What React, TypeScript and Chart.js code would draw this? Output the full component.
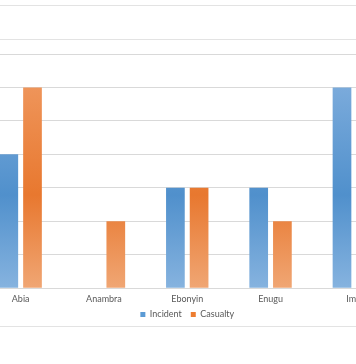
import React, { useEffect, useRef } from "react";
import { Chart, registerables } from "chart.js";

Chart.register(...registerables);

const categories = ["Abia", "Anambra", "Ebonyin", "Enugu", "Imo"];
const incident = [4, 0, 3, 3, 6];
const casualty = [6, 2, 3, 2, 4];
const seriesNames = ["Incident", "Casualty"];
const yMax = 7;

function makeGradient(chart: any, stops: [number, string][]) {
  const { ctx, chartArea, scales } = chart;
  if (!chartArea || !scales.y) return stops[1][1];
  const top = scales.y.getPixelForValue(6.2);
  const bottom = scales.y.getPixelForValue(0);
  const g = ctx.createLinearGradient(0, top, 0, bottom);
  stops.forEach(([p, c]) => g.addColorStop(p, c));
  return g;
}

const blueStops: [number, string][] = [
  [0, "#7dacdc"],
  [0.55, "#5090cc"],
  [1, "#86b3df"],
];
const orangeStops: [number, string][] = [
  [0, "#ef965c"],
  [0.55, "#e8782f"],
  [1, "#f0a674"],
];

const decoLines = {
  id: "decoLines",
  beforeDraw(chart: any) {
    const { ctx, width } = chart;
    ctx.save();
    ctx.strokeStyle = "#e3e3e3";
    ctx.lineWidth = 1;
    [5.5, 39.5, 326.5].forEach((y) => {
      ctx.beginPath();
      ctx.moveTo(0, y);
      ctx.lineTo(width, y);
      ctx.stroke();
    });
    ctx.restore();
  },
};

const legendShift = {
  id: "legendShift",
  afterLayout(chart: any) {
    const lg = chart.legend;
    if (lg) {
      lg.top -= 8;
      lg.bottom -= 8;
    }
  },
};

export default function App() {
  const ref = useRef<HTMLCanvasElement | null>(null);
  useEffect(() => {
    document.body.style.margin = "0";
    const chart = new Chart(ref.current!, {
      type: "bar",
      data: {
        labels: categories,
        datasets: [
          {
            label: seriesNames[0],
            data: incident,
            backgroundColor: (c: any) => makeGradient(c.chart, blueStops),
            categoryPercentage: 0.569,
            barPercentage: 0.789,
          },
          {
            label: seriesNames[1],
            data: casualty,
            backgroundColor: (c: any) => makeGradient(c.chart, orangeStops),
            categoryPercentage: 0.569,
            barPercentage: 0.789,
          },
        ],
      },
      options: {
        animation: false,
        responsive: false,
        maintainAspectRatio: false,
        layout: { padding: { left: 39, right: 20.5, top: 54, bottom: 27 } },
        plugins: {
          tooltip: { enabled: false },
          legend: {
            position: "bottom",
            labels: {
              boxWidth: 5,
              boxHeight: 5,
              padding: 9,
              color: "#595959",
              font: { family: "Lato", size: 9 },
              generateLabels: () =>
                seriesNames.map((n, i) => ({
                  text: n,
                  fillStyle: i === 0 ? "#5b9bd5" : "#ed7d31",
                  strokeStyle: "rgba(0,0,0,0)",
                  lineWidth: 0,
                  datasetIndex: i,
                  fontColor: "#595959",
                })),
            },
          },
        },
        scales: {
          x: {
            grid: { display: false, drawTicks: false },
            border: { display: true, color: "#d9d9d9" },
            ticks: {
              color: "#595959",
              font: { family: "Lato", size: 9 },
              padding: 5,
            },
          },
          y: {
            min: 0,
            max: yMax,
            ticks: { display: false, stepSize: 1 },
            grid: { color: "#d9d9d9", drawTicks: false },
            border: { display: false },
          },
        },
      },
      plugins: [decoLines, legendShift],
    });
    return () => chart.destroy();
  }, []);
  return (
    <div
      style={{
        position: "fixed",
        left: 0,
        top: 0,
        width: 356,
        height: 364,
        overflow: "hidden",
        background: "#fff",
      }}
    >
      <canvas
        ref={ref}
        width={476}
        height={364}
        style={{ position: "absolute", left: -60, top: 0, width: 476, height: 364 }}
      />
    </div>
  );
}
